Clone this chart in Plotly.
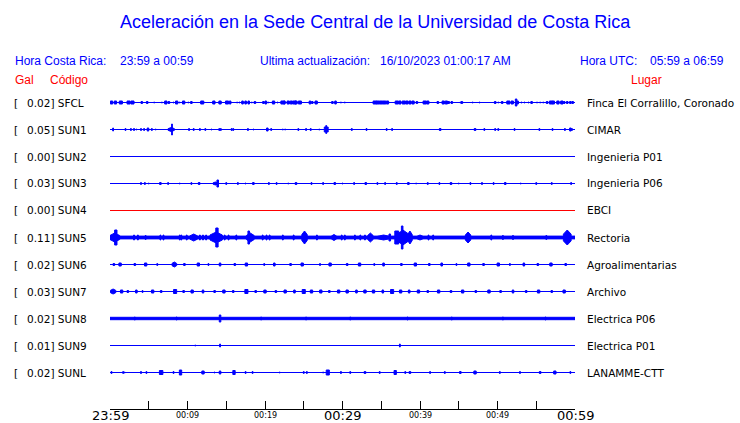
import plotly.graph_objects as go

# ---------------- data ----------------
stations = ["SFCL", "SUN1", "SUN2", "SUN3", "SUN4", "SUN5", "SUN6", "SUN7", "SUN8", "SUN9", "SUNL"]
peak_gal = ["0.02", "0.05", "0.00", "0.03", "0.00", "0.11", "0.02", "0.03", "0.02", "0.01", "0.02"]
places = ["Finca El Corralillo, Coronado", "CIMAR", "Ingenieria P01", "Ingenieria P06", "EBCI",
          "Rectoria", "Agroalimentarias", "Archivo", "Electrica P06", "Electrica P01", "LANAMME-CTT"]
# background noise amplitude of each trace
noise = [0, 0, 0, 0, 0, 1.9, 0, 0.5, 1.7, 0, 0]

tick_minutes = [0, 5, 10, 15, 20, 25, 30, 35, 40, 45, 50, 55, 60]
tick_labels = ["23:59", "", "00:09", "", "00:19", "", "00:29", "", "00:39", "", "00:49", "", "00:59"]
major_labels = ["23:59", "00:29", "00:59"]

# bursts: (minute after 23:59, amplitude, duration in minutes)
sfcl_bursts = [(0.2,2,.3),(0.7,2,.3),(1.4,2,.4),(2.4,2,.4),(2.9,2,.4),(4.1,1.5,.2),(4.8,1.5,.2),(5.7,1,.1),
               (6.7,1,.1),(7.2,2,.3),(7.6,1.5,.2),(8.2,1,.1),(8.6,2,.3),(9.0,1,.1),(9.5,2,.3),(10.1,1,.1),
               (10.5,1.5,.2),(11.9,2,.4),(13.4,2,.3),(14.2,2,.3),(15.1,2,.4),(15.5,2,.2),(16.4,1,.1),(16.7,1,.1),
               (17.1,2,.2),(17.5,2,.2),(17.9,2,.2),(18.3,1,.1),(18.7,1.5,.2),(19.8,1.5,.2),(20.1,2,.2),(20.4,1,.1),
               (21.1,2,.3),(21.6,1,.1),(22.3,2,.5),(22.5,2,.2),(23.0,2,.3),(23.4,2,.3),(23.8,2,.4),(24.0,2,.3),
               (24.5,2,.4),(25.8,2,.2),(26.1,1.5,.2),(26.6,2,.3),(28.7,1.5,.2),(29.1,2,.2),(29.8,1,.1),(30.3,1,.1),
               (34.2,2,.5),(34.6,2,.4),(35.0,2,.4),(35.4,2,.4),(35.8,2,.3),(37.0,2,.4),(37.4,2,.3),(37.9,2,.4),
               (38.3,2,.3),(38.7,2,.3),(39.1,2,.3),(39.6,1.5,.2),(40.6,2,.4),(41.0,2,.3),(42.3,1.5,.2),(43.0,2,.3),
               (43.4,2,.3),(43.7,1.5,.2),(44.1,1.5,.2),(45.2,1,.1),(45.4,1.5,.2),(46.8,1,.1),(47.7,1,.1),(49.7,1.5,.2),
               (50.1,1,.1),(50.6,1.5,.2),(51.4,2,.4),(51.9,2,.3),(52.4,4,.2),(52.6,2,.2),(53.1,1,.1),(53.5,1,.1),
               (54.0,1,.1),(54.4,1.5,.2),(55.1,1,.1),(55.5,1,.1),(55.9,1,.1),(56.4,1.5,.2),(56.9,2,.4),(57.2,2,.3),
               (57.8,2,.3),(58.3,2,.3),(58.6,1.5,.2),(59.0,1.5,.2),(59.4,1.5,.2),(59.7,1.5,.2)]
sun1_bursts = [(0.4,2,.1),(2.0,1.5,.1),(2.7,1.5,.1),(3.1,1.5,.1),(3.4,1,.1),(4.0,1.5,.1),(4.4,1.5,.1),(4.9,2,.2),
               (5.4,1.5,.1),(5.9,1,.1),(7.9,2.5,.8),(8.0,6,.1),(10.2,1.5,.1),(10.8,1.5,.1),(11.6,1.5,.1),(12.3,1.5,.1),
               (13.1,1,.1),(14.1,1.5,.1),(14.3,1.5,.1),(15.7,1.5,.1),(15.9,1.5,.1),(17.8,1.5,.1),(18.5,1,.1),(20.3,2,.2),
               (20.8,1.5,.1),(22.3,1,.1),(22.6,1,.1),(24.3,1.5,.1),(25.3,1.5,.1),(25.9,1.5,.1),(27.0,1,.1),(27.9,3,.5),
               (27.9,4.5,.1),(31.2,1.5,.1),(33.1,1.5,.1),(35.7,1.5,.1),(36.4,1.5,.1),(42.6,1.5,.2),(47.1,1.5,.2),
               (48.3,1.5,.1),(49.7,1.5,.1),(50.1,1.5,.1),(52.2,1.5,.1),(55.4,1.5,.1),(57.1,1.5,.1),(58.7,1.5,.1),
               (59.4,2,.2),(59.6,1.5,.1)]
sun2_bursts = []
sun3_bursts = [(4.0,1.5,.1),(4.5,1.5,.1),(5.0,1,.1),(6.5,1.5,.2),(7.5,1.5,.1),(9.0,1,.1),(10.5,1.5,.1),(11.5,1.5,.2),
               (13.6,2,.6),(13.9,4,.2),(15.0,1.5,.1),(16.5,1.5,.1),(17.5,1,.1),(18.5,1.5,.2),(20.5,1.5,.1),(21.5,1.5,.1),
               (23.0,1,.1),(24.0,1.5,.2),(26.0,1.5,.1),(27.5,1.5,.1),(29.0,1.5,.2),(30.0,1,.1),(31.5,1.5,.1),(33.0,1.5,.2),
               (34.5,1.5,.1),(35.5,1.5,.1),(37.0,1.5,.1),(38.5,1.5,.2),(39.5,1,.1),(41.0,1.5,.1),(42.5,1.5,.1),(44.0,1.5,.2),
               (45.0,1,.1),(46.5,1.5,.1),(48.0,1.5,.1),(49.5,1.5,.1),(51.0,1.5,.2),(53.0,1,.1),(55.0,1.5,.1),(57.0,1.5,.1),
               (59.5,1.5,.1)]
sun4_bursts = []
sun5_bursts = [(0.6,5,1.3),(0.75,8,.3),(3.1,3,.1),(3.6,3,.1),(4.6,2.5,.1),(6.5,3,.1),(6.9,3,.1),(9.0,3,.1),(9.2,3,.1),
               (9.9,3,.1),(10.8,4,1.0),(11.6,3,.1),(12.0,3,.1),(12.4,3,.1),(13.7,6,1.6),(13.8,10,.3),(14.8,3,.1),
               (15.3,3,.1),(16.3,3,.1),(18.1,5,1.0),(17.9,7,.2),(19.7,3,.1),(20.2,3,.1),(20.6,3,.1),(22.3,3,.1),
               (23.7,3,.1),(25.1,7,.7),(26.7,3,.1),(28.9,3.5,.7),(29.9,3,.1),(30.3,3,.1),(31.6,3,.1),(32.3,3,.1),
               (32.9,3,.1),(33.6,5,.7),(35.3,3,1.6),(36.1,4,.2),(37.0,7,.5),(37.8,8,1.5),(37.7,12,.2),(38.7,7,.6),
               (40.0,3,.8),(41.1,3,.1),(41.7,3,.1),(46.2,6,.7),(49.2,3,.1),(50.7,2.5,.1),(52.0,2.5,.1),(56.3,2.5,.1),
               (59.0,8,1.0)]
sun6_bursts = [(0.5,1.5,.2),(1.3,2,.3),(3.2,1.5,.2),(4.6,2,.3),(6.1,1.5,.1),(8.3,3,.6),(9.6,1.5,.2),(11.4,2,.3),
               (12.7,1.5,.1),(14.2,2,.2),(16.1,1.5,.2),(17.6,2,.3),(19.9,1.5,.1),(21.2,2,.2),(23.3,1.5,.2),(24.8,2,.3),
               (27.1,1.5,.1),(28.4,2,.3),(30.6,1.5,.2),(32.2,2,.3),(34.1,1.5,.1),(35.3,2,.2),(37.6,1.5,.2),(39.4,2,.3),
               (41.2,1.5,.2),(42.8,2,.2),(44.7,1.5,.1),(46.3,2,.3),(48.2,1.5,.2),(50.1,2,.3),(51.6,1.5,.1),(53.4,2,.2),
               (55.2,1.5,.2),(56.9,2,.3),(58.8,1.5,.2)]
sun7_bursts = [(0.4,3,.7),(1.5,2,.3),(2.3,1.5,.2),(3.4,2,.2),(4.2,1.5,.1),(5.5,2,.3),(6.6,1.5,.2),(8.4,2.5,.4),
               (9.5,1.5,.2),(10.6,2,.3),(12.0,2,.2),(13.5,1.5,.2),(14.7,2,.3),(15.9,1.5,.2),(17.6,2.5,.4),(18.8,1.5,.2),
               (20.0,2,.3),(21.4,1.5,.2),(22.6,2,.3),(23.8,2,.2),(25.0,2.5,.4),(26.0,2,.3),(27.2,2,.3),(28.3,1.5,.2),
               (29.5,2,.3),(30.6,2,.3),(31.8,2,.2),(32.9,2,.3),(34.0,2,.3),(35.2,2,.2),(36.4,2.5,.4),(37.5,2,.3),
               (38.6,2,.2),(39.8,2,.3),(41.0,1.5,.2),(42.4,2,.3),(44.0,1.5,.2),(45.5,2,.3),(47.2,1.5,.2),(48.9,2,.3),
               (50.4,1.5,.2),(52.0,2,.2),(53.7,1.5,.2),(55.3,2,.3),(57.0,1.5,.2),(58.6,2,.3)]
sun8_bursts = [(3.2,2,.1),(8.6,2,.1),(14.2,4,.2),(19.5,2,.1),(25.3,2,.1),(31.0,2,.1),(38.4,2,.1),(44.1,2,.1),
               (50.7,2,.1),(56.2,2,.1)]
sun9_bursts = [(11.0,1,.1),(14.2,2,.1),(37.4,2,.1)]
sunl_bursts = [(0.2,1.5,.1),(1.7,1.5,.1),(1.9,1,.1),(4.0,1.5,.1),(4.7,1.5,.1),(6.6,2.5,.45),(8.2,1.5,.1),(9.1,3,.3),
               (12.0,2,.3),(13.5,1,.1),(14.2,2,.2),(16.0,2.5,.3),(17.5,1.5,.1),(18.4,1.5,.1),(21.9,1,.1),(25.0,1.5,.1),
               (25.4,1.5,.1),(27.5,1,.1),(28.1,3,.4),(29.8,1.5,.1),(31.0,1.5,.1),(32.9,1.5,.2),(34.8,1.5,.1),(36.8,2.5,.3),
               (38.1,1.5,.1),(38.7,1.5,.2),(41.3,1.5,.1),(43.2,1.5,.1),(45.2,1.5,.2),(47.1,2,.3),(50.3,1.5,.1),
               (52.9,1.5,.1),(55.5,1.5,.2),(57.4,2,.3),(59.4,1.5,.1)]
bursts = [sfcl_bursts, sun1_bursts, sun2_bursts, sun3_bursts, sun4_bursts, sun5_bursts,
          sun6_bursts, sun7_bursts, sun8_bursts, sun9_bursts, sunl_bursts]
trace_colors = ["blue", "blue", "blue", "blue", "red", "blue", "blue", "blue", "blue", "blue", "blue"]

# ---------------- layout constants ----------------
W, H = 740, 423
L, R = 110, 575          # plot area, pixels
AXIS_Y = 409
ROW0, ROW_STEP = 102.5, 27
GAIN = 1.0 / ROW_STEP    # amplitude units -> row units
EDGE = 0.5               # outline half-width compensation

def px_x(p):
    return (p - L) / (R - L)

def px_y(p):
    return 1 - p / AXIS_Y

fig = go.Figure()

for i, name in enumerate(stations):
    col = trace_colors[i]
    # baseline
    fig.add_trace(go.Scatter(x=[0, 60], y=[i, i], mode="lines",
                             line=dict(color=col, width=1), hoverinfo="skip", showlegend=False))
    xs, ys = [], []
    if noise[i] > 0:
        n = (noise[i] - EDGE) * GAIN
        xs += [0, 60, 60, 0, 0, None]
        ys += [i - n, i - n, i + n, i + n, i - n, None]
    for (t, a, d) in bursts[i]:
        amp = max(a - EDGE, 0.5) * GAIN
        k = 1.0 if d <= 0.5 else 0.45
        x0, x1 = max(t - d / 2, 0), min(t + d / 2, 60)
        xs += [x0, t, x1, x1, t, x0, x0, None]
        ys += [i - k * amp, i - amp, i - k * amp, i + k * amp, i + amp, i + k * amp, i - k * amp, None]
    if xs:
        fig.add_trace(go.Scatter(x=xs, y=ys, mode="lines", fill="toself", fillcolor=col,
                                 line=dict(color=col, width=1), hoverinfo="skip", showlegend=False))

ann = []
BLUE = "#0000ff"
SANS = "Liberation Sans"
DV = "DejaVu Sans"

def text(x, y, s, size, color, family, anchor="left"):
    ann.append(dict(x=px_x(x), y=px_y(y), xref="paper", yref="paper", text=s, showarrow=False,
                    xanchor=anchor, yanchor="middle", font=dict(size=size, color=color, family=family)))

text(375, 22, "Aceleración en la Sede Central de la Universidad de Costa Rica", 18, BLUE, SANS, "center")
text(13, 61, "Hora Costa Rica:", 12, BLUE, SANS)
text(118, 61, "23:59 a 00:59", 12, BLUE, SANS)
text(258, 61, "Ultima actualización:", 12, BLUE, SANS)
text(378, 61, "16/10/2023 01:00:17 AM", 12, BLUE, SANS)
text(578, 61, "Hora UTC:", 12, BLUE, SANS)
text(648, 61, "05:59 a 06:59", 12, BLUE, SANS)
text(13, 80, "Gal", 12, "red", SANS)
text(48, 80, "Código", 12, "red", SANS)
text(629, 80, "Lugar", 12, "red", SANS)

for i, name in enumerate(stations):
    y = ROW0 + ROW_STEP * i
    text(12, y, "[", 10.5, "black", DV)
    text(25, y, peak_gal[i] + "] " + name, 10.5, "black", DV)
    text(585, y, places[i], 10.5, "black", DV)

for m, lab in zip(tick_minutes, tick_labels):
    if not lab:
        continue
    big = lab in major_labels
    ann.append(dict(x=m, y=px_y(415 if big else 415), xref="x", yref="paper", text=lab, showarrow=False,
                    xanchor="center", yanchor="middle",
                    font=dict(size=13 if big else 8, color="black", family=DV)))

fig.update_layout(
    width=W, height=H, margin=dict(l=L, r=W - R, t=0, b=H - AXIS_Y),
    paper_bgcolor="white", plot_bgcolor="white", showlegend=False,
    annotations=ann,
    xaxis=dict(range=[0, 60], tickvals=tick_minutes, ticktext=[""] * len(tick_minutes),
               ticks="inside", ticklen=8, tickcolor="black", tickwidth=1,
               showline=True, linecolor="black", linewidth=1, showgrid=False, zeroline=False,
               fixedrange=True),
    yaxis=dict(range=[(AXIS_Y - ROW0) / ROW_STEP, -ROW0 / ROW_STEP], showgrid=False, zeroline=False,
               showticklabels=False, ticks="", showline=False, fixedrange=True),
)

fig.write_html("out.html", config={"displayModeBar": False},
               post_script="document.body.style.margin='0';document.body.style.overflow='hidden';")
